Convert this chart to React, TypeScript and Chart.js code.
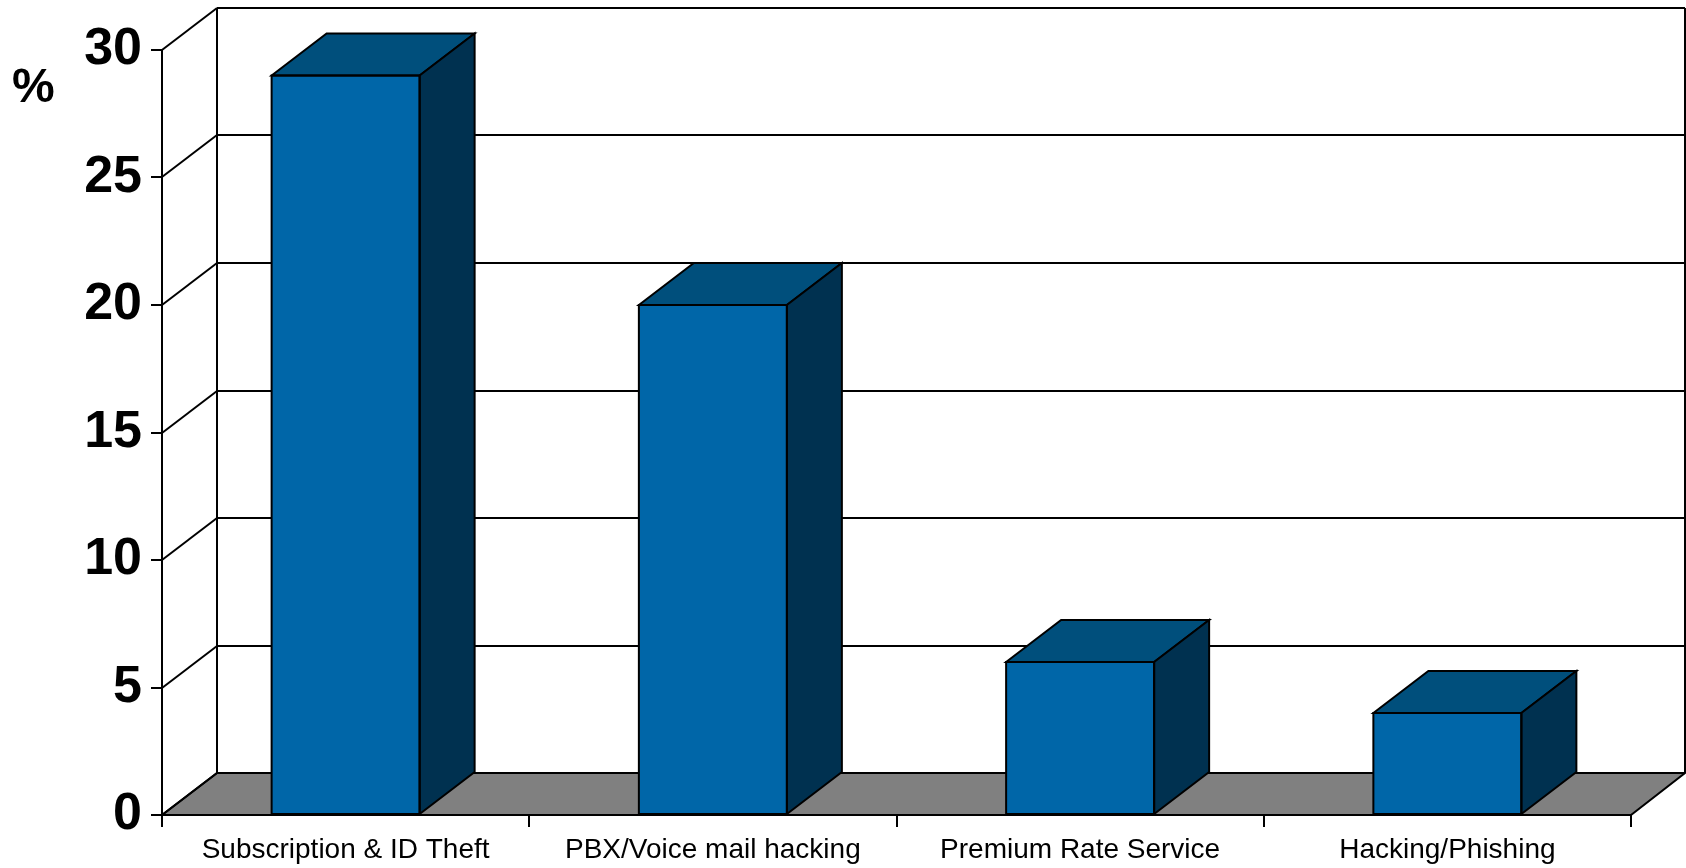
import React, { useEffect, useRef } from "react";
import { Chart, registerables } from "chart.js";

Chart.register(...registerables);

const categories = [
  "Subscription & ID Theft",
  "PBX/Voice mail hacking",
  "Premium Rate Service",
  "Hacking/Phishing",
];
const values = [29, 20, 6, 4];
const yMin = 0;
const yMax = 30;
const yStep = 5;
const yUnitLabel = "%";

const FONT = '"Liberation Sans", Arial, sans-serif';
const DX = 55;
const DY = 42;
const FRONT = "#0066A8";
const TOP = "#004F7C";
const SIDE = "#003150";
const FLOOR = "#808080";

const poly = (ctx: CanvasRenderingContext2D, pts: number[][], fill: string) => {
  ctx.beginPath();
  ctx.moveTo(pts[0][0], pts[0][1]);
  for (let i = 1; i < pts.length; i++) ctx.lineTo(pts[i][0], pts[i][1]);
  ctx.closePath();
  ctx.fillStyle = fill;
  ctx.fill();
  ctx.stroke();
};

const line = (ctx: CanvasRenderingContext2D, x1: number, y1: number, x2: number, y2: number) => {
  ctx.beginPath();
  ctx.moveTo(x1, y1);
  ctx.lineTo(x2, y2);
  ctx.stroke();
};

const threeD = {
  id: "threeD",
  beforeDatasetsDraw(chart: any) {
    const { ctx, chartArea, scales } = chart;
    const { left, right, top, bottom } = chartArea;
    const y = scales.y;
    const wallRight = Math.min(right + DX, chart.width - 1);
    ctx.save();
    ctx.strokeStyle = "#000";
    ctx.lineWidth = 2;
    ctx.lineJoin = "miter";
    // floor
    poly(ctx, [[left, bottom], [left + DX, bottom - DY], [wallRight, bottom - DY], [right, bottom]], FLOOR);
    // gridlines on back wall + side diagonals
    y.ticks.forEach((t: any) => {
      const yy = Math.round(y.getPixelForValue(t.value));
      line(ctx, left, yy, left + DX, yy - DY);
      line(ctx, left + DX, yy - DY, wallRight, yy - DY);
    });
    line(ctx, left + DX, top - DY, left + DX, bottom - DY);
    line(ctx, wallRight, top - DY, wallRight, bottom - DY);
    // unit label
    ctx.fillStyle = "#000";
    ctx.font = `bold 48px ${FONT}`;
    ctx.textAlign = "left";
    ctx.textBaseline = "alphabetic";
    ctx.fillText(yUnitLabel, 12, 102);
    ctx.restore();
  },
  afterDatasetsDraw(chart: any) {
    const { ctx } = chart;
    const meta = chart.getDatasetMeta(0);
    ctx.save();
    ctx.strokeStyle = "#000";
    ctx.lineWidth = 2;
    meta.data.forEach((bar: any) => {
      const { x, y, width, base } = bar.getProps(["x", "y", "width", "base"], true);
      const l = x - width / 2;
      const r = x + width / 2;
      poly(ctx, [[l, y], [l + DX, y - DY], [r + DX, y - DY], [r, y]], TOP);
      poly(ctx, [[r, y], [r + DX, y - DY], [r + DX, base - DY], [r, base]], SIDE);
      ctx.strokeRect(l, y, width, base - y);
    });
    ctx.restore();
  },
};

export default function App() {
  const ref = useRef<HTMLCanvasElement | null>(null);
  useEffect(() => {
    document.body.style.margin = "0";
    document.body.style.overflow = "hidden";
    const canvas = ref.current!;
    const chart = new Chart(canvas, {
      type: "bar",
      data: {
        labels: categories,
        datasets: [
          {
            data: values,
            backgroundColor: FRONT,
            borderColor: "#000",
            borderWidth: 0,
            borderSkipped: false,
            barPercentage: 0.403,
            categoryPercentage: 1,
          },
        ],
      },
      options: {
        responsive: false,
        animation: false,
        devicePixelRatio: 1,
        layout: { padding: { top: 50, right: 55, left: 0, bottom: 0 } },
        plugins: {
          legend: { display: false },
          tooltip: { enabled: false },
          title: { display: false },
        },
        scales: {
          x: {
            type: "category",
            offset: true,
            grid: {
              offset: true,
              drawOnChartArea: false,
              drawTicks: true,
              tickLength: 12,
              color: "#000",
              lineWidth: 2,
            },
            border: { display: true, color: "#000", width: 2 },
            ticks: {
              color: "#000",
              font: { family: FONT, size: 28 },
              padding: 6,
              maxRotation: 0,
              autoSkip: false,
            },
            afterFit: (s: any) => {
              s.height = 53;
            },
          },
          y: {
            min: yMin,
            max: yMax,
            grid: {
              drawOnChartArea: false,
              drawTicks: true,
              tickLength: 11,
              color: "#000",
              lineWidth: 2,
            },
            border: { display: true, color: "#000", width: 2 },
            ticks: {
              stepSize: yStep,
              color: "#000",
              font: { family: FONT, size: 52, weight: "bold" },
              padding: 9,
            },
            afterFit: (s: any) => {
              s.width = 162;
            },
          },
        },
      },
      plugins: [threeD],
    });
    return () => chart.destroy();
  }, []);
  return (
    <canvas
      ref={ref}
      width={1686}
      height={868}
      style={{ display: "block", width: "1686px", height: "868px" }}
    />
  );
}
